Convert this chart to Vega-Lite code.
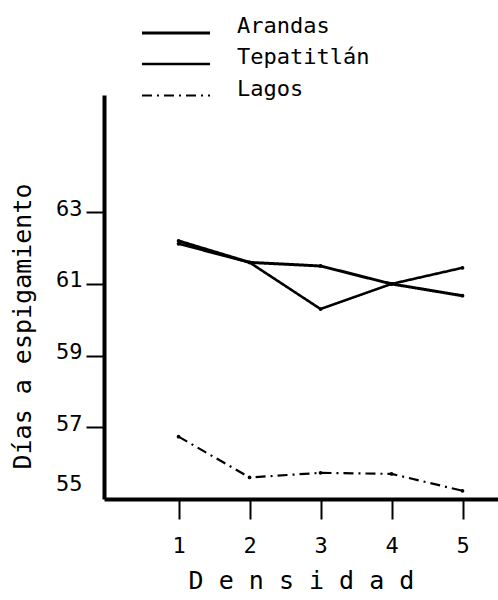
{
  "$schema": "https://vega.github.io/schema/vega-lite/v6.json",
  "width": 394,
  "height": 404,
  "autosize": {"type": "none"},
  "padding": {"left": 104, "top": 95, "right": 0, "bottom": 101},
  "background": "white",
  "config": {
    "view": {"stroke": null},
    "font": "DejaVu Sans Mono",
    "axis": {"grid": false, "domainColor": "black", "tickColor": "black", "labelColor": "black", "titleColor": "black", "labelFont": "DejaVu Sans Mono", "titleFont": "DejaVu Sans Mono", "titleFontWeight": "normal"}
  },
  "data": {
    "values": [
      {"Densidad": 1, "Dias": 62.2, "Localidad": "Arandas"},
      {"Densidad": 2, "Dias": 61.6, "Localidad": "Arandas"},
      {"Densidad": 3, "Dias": 61.5, "Localidad": "Arandas"},
      {"Densidad": 4, "Dias": 61.0, "Localidad": "Arandas"},
      {"Densidad": 5, "Dias": 60.67, "Localidad": "Arandas"},
      {"Densidad": 1, "Dias": 62.12, "Localidad": "Tepatitlán"},
      {"Densidad": 2, "Dias": 61.6, "Localidad": "Tepatitlán"},
      {"Densidad": 3, "Dias": 60.3, "Localidad": "Tepatitlán"},
      {"Densidad": 4, "Dias": 61.0, "Localidad": "Tepatitlán"},
      {"Densidad": 5, "Dias": 61.45, "Localidad": "Tepatitlán"},
      {"Densidad": 1, "Dias": 56.74, "Localidad": "Lagos"},
      {"Densidad": 2, "Dias": 55.6, "Localidad": "Lagos"},
      {"Densidad": 3, "Dias": 55.73, "Localidad": "Lagos"},
      {"Densidad": 4, "Dias": 55.7, "Localidad": "Lagos"},
      {"Densidad": 5, "Dias": 55.23, "Localidad": "Lagos"}
    ]
  },
  "encoding": {
    "x": {
      "field": "Densidad", "type": "quantitative",
      "scale": {"domain": [-0.05, 5.5], "nice": false, "zero": false},
      "axis": {
        "values": [1, 2, 3, 4, 5], "title": "D e n s i d a d",
        "domainWidth": 4, "tickWidth": 2, "tickSize": 20,
        "labelFontSize": 22, "labelPadding": 16,
        "titleFontSize": 25, "titlePadding": 12
      }
    },
    "y": {
      "field": "Dias", "type": "quantitative",
      "scale": {"domain": [55, 66.27], "nice": false, "zero": false},
      "axis": {
        "values": [55, 57, 59, 61, 63], "title": "Días a espigamiento",
        "domainWidth": 4, "tickWidth": 2, "tickSize": 18,
        "tickColor": {"condition": {"test": "datum.value === 55", "value": "transparent"}, "value": "black"},
        "labelFontSize": 22, "labelPadding": 4,
        "labelOffset": {"condition": {"test": "datum.value === 55", "value": -16}, "value": -4},
        "titleFontSize": 25, "titleX": -82, "titleY": 231, "titleAngle": -90,
        "titleAlign": "center", "titleBaseline": "middle"
      }
    }
  },
  "layer": [
    {
      "mark": {"type": "line", "color": "black"},
      "encoding": {
        "strokeDash": {
          "field": "Localidad", "type": "nominal",
          "scale": {"domain": ["Arandas", "Tepatitlán", "Lagos"], "range": [[1, 0], [1, 0], [10, 5, 2, 5]]},
          "legend": {
            "title": null, "orient": "none", "legendX": 59, "legendY": -75, "padding": 0,
            "symbolType": "M-3,0H3", "symbolSize": 514, "symbolStrokeColor": "black",
            "labelFontSize": 22, "labelFont": "DejaVu Sans Mono", "labelColor": "black",
            "labelBaseline": "alphabetic", "labelOffset": 48, "rowPadding": 7
          }
        },
        "strokeWidth": {
          "field": "Localidad", "type": "nominal",
          "scale": {"domain": ["Arandas", "Tepatitlán", "Lagos"], "range": [3, 2.2, 1.8]},
          "legend": {
            "title": null, "orient": "none", "legendX": 59, "legendY": -75, "padding": 0,
            "symbolType": "M-3,0H3", "symbolSize": 514, "symbolStrokeColor": "black",
            "labelFontSize": 22, "labelFont": "DejaVu Sans Mono", "labelColor": "black",
            "labelBaseline": "alphabetic", "labelOffset": 48, "rowPadding": 7
          }
        }
      }
    },
    {
      "mark": {"type": "point", "filled": true, "size": 14, "color": "black", "opacity": 1},
      "encoding": {"detail": {"field": "Localidad", "type": "nominal"}}
    }
  ]
}
